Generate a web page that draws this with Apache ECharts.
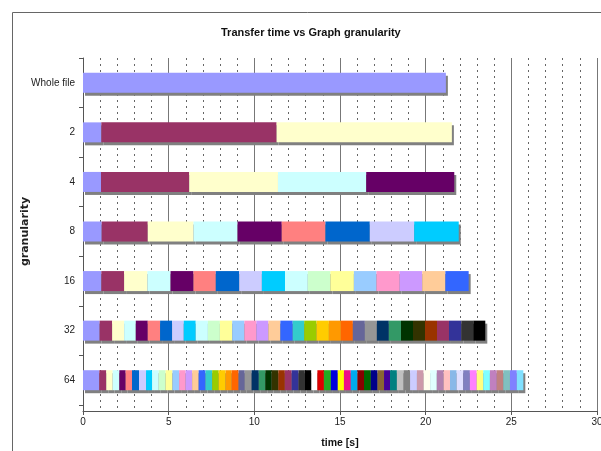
<!DOCTYPE html>
<html>
<head>
<meta charset="utf-8">
<script src="https://cdn.jsdelivr.net/npm/echarts@6/dist/echarts.min.js"></script>
<style>html,body{margin:0;padding:0;background:#fff}#c{width:601px;height:451px}</style>
</head>
<body>
<div id="c"></div>
<script>
// Categories (top to bottom)
const categories = ['Whole file', '2', '4', '8', '16', '32', '64'];
// Transfer time of each piece [s], in order of transfer
const wholeFile = [21.18];
const gran2 = [1.07, 10.23, 10.23];
const gran4 = [1.05, 5.15, 5.18, 5.15, 5.14];
const gran8 = [1.09, 2.69, 2.67, 2.57, 2.58, 2.55, 2.59, 2.59, 2.60];
const gran16 = [1.07, 1.33, 1.36, 1.35, 1.34, 1.30, 1.37, 1.32, 1.35, 1.33, 1.32, 1.37, 1.32, 1.35, 1.32, 1.35, 1.36];
const gran32 = [0.97, 0.73, 0.70, 0.68, 0.70, 0.72, 0.70, 0.68, 0.70, 0.71, 0.70, 0.72, 0.71, 0.70, 0.70, 0.70, 0.72,
  0.67, 0.72, 0.72, 0.70, 0.70, 0.70, 0.70, 0.70, 0.71, 0.70, 0.70, 0.70, 0.70, 0.72, 0.70, 0.70];
const gran64 = [0.95, 0.41, 0.37, 0.39, 0.37, 0.37, 0.41, 0.41, 0.35, 0.39,
  0.40, 0.40, 0.39, 0.38, 0.38, 0.38, 0.40, 0.39, 0.38, 0.40,
  0.36, 0.40, 0.36, 0.40, 0.42, 0.38, 0.37, 0.39, 0.38, 0.40,
  0.40, 0.36, 0.39, 0.35, 0.38, 0.41, 0.40, 0.36, 0.40, 0.39,
  0.38, 0.40, 0.39, 0.38, 0.35, 0.40, 0.39, 0.38, 0.40, 0.39,
  0.38, 0.39, 0.40, 0.37, 0.39, 0.38, 0.39, 0.40, 0.38, 0.39,
  0.40, 0.38, 0.39, 0.40, 0.38];
const xTicks = [0, 5, 10, 15, 20, 25, 30];

const palette = ['#9999FF', '#993366', '#FFFFCC', '#CCFFFF', '#660066', '#FF8080', '#0066CC', '#CCCCFF',
  '#00CCFF', '#CCFFFF', '#CCFFCC', '#FFFF99', '#99CCFF', '#FF99CC', '#CC99FF', '#FFCC99',
  '#3366FF', '#33CCCC', '#99CC00', '#FFCC00', '#FF9900', '#FF6600', '#666699', '#969696',
  '#003366', '#339966', '#003300', '#333300', '#993300', '#993366', '#333399', '#333333',
  '#000000', '#FFFFFF', '#DD0000', '#22AA22', '#0000DD', '#FFFF00', '#EE1188', '#00AAEE',
  '#880000', '#006600', '#000088', '#886633', '#440099', '#008080', '#C0C0C0', '#808080',
  '#CCCCFF', '#CC99AA', '#FFFFEE', '#E0FFFF', '#B080B0', '#FFC0C0', '#88B8E8', '#E0E0FF',
  '#8080C0', '#FF80FF', '#FFFF80', '#80FFFF', '#C080C0', '#C08080', '#80C0C0', '#8080FF', '#80E0FF'];

const rows = [wholeFile, gran2, gran4, gran8, gran16, gran32, gran64];
const nSeg = Math.max(...rows.map(r => r.length));
const series = [];
for (let k = 0; k < nSeg; k++) {
  series.push({
    type: 'bar',
    stack: 'total',
    xAxisIndex: 0, yAxisIndex: 0,
    barWidth: 20,
    data: rows.map(r => (k < r.length ? r[k] : '-')),
    itemStyle: {
      color: palette[k % palette.length],
      shadowColor: '#808080',
      shadowBlur: 0,
      shadowOffsetX: 2,
      shadowOffsetY: 3
    },
    emphasis: { disabled: true },
    animation: false
  });
}

const font = 'Liberation Sans, Arial, sans-serif';
const chart = echarts.init(document.getElementById('c'));
chart.setOption({
  animation: false,
  title: {
    text: 'Transfer time vs Graph granularity',
    left: 216, top: 22,
    textStyle: { fontFamily: font, fontSize: 11, fontWeight: 'bold', color: '#111' }
  },
  graphic: [{
    type: 'rect', silent: true, z: -10,
    shape: { x: 12.5, y: 12.5, width: 700, height: 700 },
    style: { fill: 'none', stroke: '#666', lineWidth: 1 }
  }],
  grid: [
    { left: 83, right: 4, top: 58, bottom: 46, containLabel: false, outerBoundsMode: 'none' },
    { left: 83, right: 4, top: 58, bottom: 40, containLabel: false, outerBoundsMode: 'none' }
  ],
  xAxis: [{
    gridIndex: 0, type: 'value', min: 0, max: 30, interval: 5, show: false
  }, {
    gridIndex: 1, type: 'value', min: 0, max: 30, interval: 5,
    name: 'time [s]', nameLocation: 'middle', nameGap: 27,
    nameTextStyle: { fontFamily: font, fontSize: 10.5, fontWeight: 'bold', color: '#111' },
    axisLine: { show: true, lineStyle: { color: '#555' } },
    axisTick: { show: true, length: 4, lineStyle: { color: '#555' } },
    axisLabel: { fontFamily: font, fontSize: 10, color: '#222', margin: 6, hideOverlap: false,
      formatter: v => (xTicks.includes(v) ? String(v) : '') },
    splitLine: { show: true, lineStyle: { color: '#777', width: 1 } },
    minorTick: { show: false, splitNumber: 5 },
    minorSplitLine: { show: true, lineStyle: { color: '#666', width: 1, type: [2, 4] } }
  }],
  yAxis: [{
    gridIndex: 0, type: 'category', inverse: true, data: categories,
    name: 'granularity', nameLocation: 'middle', nameGap: 52, nameRotate: 90, nameMoveOverlap: false,
    nameTextStyle: { fontFamily: 'DejaVu Sans, sans-serif', fontSize: 11, fontWeight: 'bold', color: '#222' },
    axisLine: { show: false },
    axisTick: { show: true, length: 4, lineStyle: { color: '#555' } },
    axisLabel: { fontFamily: font, fontSize: 10, color: '#222', margin: 8 },
    splitLine: { show: false }
  }, {
    gridIndex: 1, type: 'value', min: 0, max: 1,
    axisLine: { show: true, lineStyle: { color: '#555' } },
    axisTick: { show: false }, axisLabel: { show: false }, splitLine: { show: false }
  }],
  series: series
});
</script>
</body>
</html>
